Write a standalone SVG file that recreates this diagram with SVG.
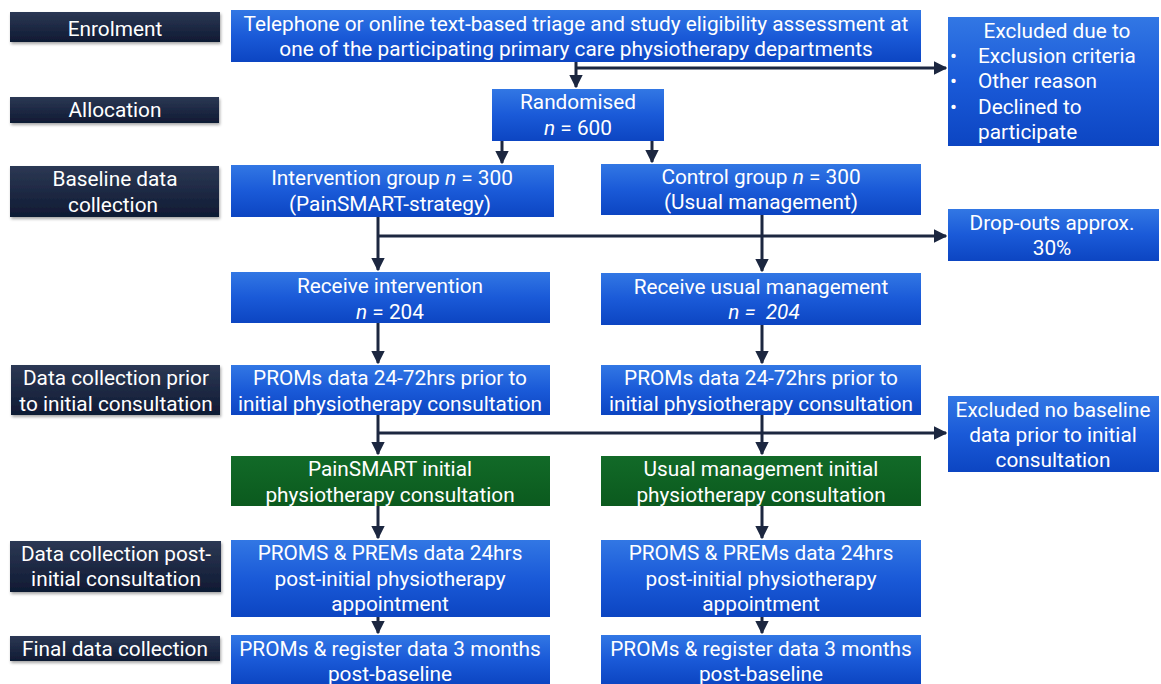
<svg xmlns="http://www.w3.org/2000/svg" width="1161" height="684" viewBox="0 0 1161 684">
<style>
text{font-family:Roboto,"Liberation Sans",sans-serif;font-size:20.8px;fill:#fff;text-anchor:middle}
.lab{fill:url(#gNavy);filter:url(#sh)}
.blue{fill:url(#gBlue)}
.green{fill:url(#gGreen)}
.c{fill:none;stroke:#1c2740;stroke-width:3}
.i{font-style:italic}
.l{text-anchor:start}
</style>
<defs>
<linearGradient id="gNavy" x1="0" y1="0" x2="0" y2="1"><stop offset="0" stop-color="#2c3854"/><stop offset="1" stop-color="#0f1a33"/></linearGradient>
<linearGradient id="gBlue" x1="0" y1="0" x2="0" y2="1"><stop offset="0" stop-color="#3277e4"/><stop offset="0.5" stop-color="#1a5ad8"/><stop offset="1" stop-color="#0c45c2"/></linearGradient>
<linearGradient id="gGreen" x1="0" y1="0" x2="0" y2="1"><stop offset="0" stop-color="#126a28"/><stop offset="1" stop-color="#0b5a1e"/></linearGradient>
<filter id="sh" x="-5%" y="-20%" width="112%" height="150%"><feDropShadow dx="1" dy="2" stdDeviation="1.5" flood-color="#000" flood-opacity="0.35"/></filter>
<marker id="ah" viewBox="0 0 10 10" refX="9" refY="5" markerWidth="4.5" markerHeight="4.5" markerUnits="strokeWidth" orient="auto"><path d="M0,0 L10,5 L0,10 z" fill="#1c2740"/></marker>
</defs>

<g id="connectors">
<path class="c" d="M576,62 V87" marker-end="url(#ah)"/>
<path class="c" d="M576,68 H946" marker-end="url(#ah)"/>
<path class="c" d="M502,141 V163" marker-end="url(#ah)"/>
<path class="c" d="M652,141 V162" marker-end="url(#ah)"/>
<path class="c" d="M378,217 V270" marker-end="url(#ah)"/>
<path class="c" d="M762,215 V271" marker-end="url(#ah)"/>
<path class="c" d="M378,236 H946" marker-end="url(#ah)"/>
<path class="c" d="M378,323 V363" marker-end="url(#ah)"/>
<path class="c" d="M762,325 V363" marker-end="url(#ah)"/>
<path class="c" d="M378,415 V454" marker-end="url(#ah)"/>
<path class="c" d="M762,415 V454" marker-end="url(#ah)"/>
<path class="c" d="M378,433 H946" marker-end="url(#ah)"/>
<path class="c" d="M378,506 V538" marker-end="url(#ah)"/>
<path class="c" d="M762,506 V538" marker-end="url(#ah)"/>
<path class="c" d="M378,617 V633" marker-end="url(#ah)"/>
<path class="c" d="M762,617 V633" marker-end="url(#ah)"/>
</g>

<g id="lab-enrolment"><rect class="lab" x="10" y="12" width="210" height="30"/><text x="115" y="36">Enrolment</text></g>
<g id="lab-allocation"><rect class="lab" x="10" y="97" width="209" height="26"/><text x="115" y="117">Allocation</text></g>
<g id="lab-baseline"><rect class="lab" x="10" y="166" width="209" height="51"/><text x="115" y="186">Baseline data</text><text x="113" y="212">collection</text></g>
<g id="lab-prior"><rect class="lab" x="11" y="365" width="209" height="50"/><text x="116" y="385">Data collection prior</text><text x="116" y="411">to initial consultation</text></g>
<g id="lab-post"><rect class="lab" x="10" y="541" width="211" height="51"/><text x="116" y="561">Data collection post-</text><text x="116" y="586">initial consultation</text></g>
<g id="lab-final"><rect class="lab" x="10" y="636" width="210" height="25"/><text x="115" y="656">Final data collection</text></g>

<g id="n-triage"><rect class="blue" x="231" y="10" width="690" height="52"/><text x="576" y="31">Telephone or online text-based triage and study eligibility assessment at</text><text x="576" y="56">one of the participating primary care physiotherapy departments</text></g>
<g id="n-excluded1"><rect class="blue" x="948" y="17" width="211" height="129"/><text x="1057" y="38">Excluded due to</text>
<text class="l" x="950" y="63">•</text><text class="l" x="978" y="63">Exclusion criteria</text>
<text class="l" x="950" y="88">•</text><text class="l" x="978" y="88">Other reason</text>
<text class="l" x="950" y="114">•</text><text class="l" x="978" y="114">Declined to</text>
<text class="l" x="978" y="139">participate</text></g>
<g id="n-random"><rect class="blue" x="492" y="89" width="172" height="52"/><text x="578" y="109">Randomised</text><text x="578" y="135"><tspan class="i">n</tspan> = 600</text></g>
<g id="n-int"><rect class="blue" x="231" y="165" width="323" height="52"/><text x="392" y="185">Intervention group <tspan class="i">n</tspan> = 300</text><text x="390" y="211">(PainSMART-strategy)</text></g>
<g id="n-ctrl"><rect class="blue" x="601" y="164" width="320" height="51"/><text x="761" y="184">Control group <tspan class="i">n</tspan> = 300</text><text x="761" y="209">(Usual management)</text></g>
<g id="n-drop"><rect class="blue" x="948" y="209" width="211" height="52"/><text x="1052" y="230">Drop-outs approx.</text><text x="1052" y="255">30%</text></g>
<g id="n-recint"><rect class="blue" x="231" y="272" width="319" height="51"/><text x="390" y="293">Receive intervention</text><text x="390" y="319"><tspan class="i">n</tspan> = 204</text></g>
<g id="n-recusual"><rect class="blue" x="601" y="273" width="320" height="52"/><text x="761" y="294">Receive usual management</text><text x="764" y="319" class="i" xml:space="preserve">n =  204</text></g>
<g id="n-proms1"><rect class="blue" x="231" y="365" width="319" height="50"/><text x="390" y="385">PROMs data 24-72hrs prior to</text><text x="390" y="411">initial physiotherapy consultation</text></g>
<g id="n-proms2"><rect class="blue" x="601" y="365" width="320" height="50"/><text x="761" y="385">PROMs data 24-72hrs prior to</text><text x="761" y="411">initial physiotherapy consultation</text></g>
<g id="n-excluded2"><rect class="blue" x="948" y="396" width="211" height="76"/><text x="1053" y="417">Excluded no baseline</text><text x="1053" y="442">data prior to initial</text><text x="1053" y="467">consultation</text></g>
<g id="n-painsmart"><rect class="green" x="231" y="456" width="319" height="50"/><text x="390" y="476">PainSMART initial</text><text x="390" y="502">physiotherapy consultation</text></g>
<g id="n-usual"><rect class="green" x="601" y="456" width="320" height="50"/><text x="761" y="476">Usual management initial</text><text x="761" y="502">physiotherapy consultation</text></g>
<g id="n-prems1"><rect class="blue" x="231" y="540" width="319" height="77"/><text x="390" y="560">PROMS &amp; PREMs data 24hrs</text><text x="390" y="586">post-initial physiotherapy</text><text x="390" y="611">appointment</text></g>
<g id="n-prems2"><rect class="blue" x="601" y="540" width="320" height="77"/><text x="761" y="560">PROMS &amp; PREMs data 24hrs</text><text x="761" y="586">post-initial physiotherapy</text><text x="761" y="611">appointment</text></g>
<g id="n-final1"><rect class="blue" x="231" y="635" width="319" height="49"/><text x="390" y="656">PROMs &amp; register data 3 months</text><text x="390" y="681">post-baseline</text></g>
<g id="n-final2"><rect class="blue" x="601" y="635" width="320" height="49"/><text x="761" y="656">PROMs &amp; register data 3 months</text><text x="761" y="681">post-baseline</text></g>
</svg>
